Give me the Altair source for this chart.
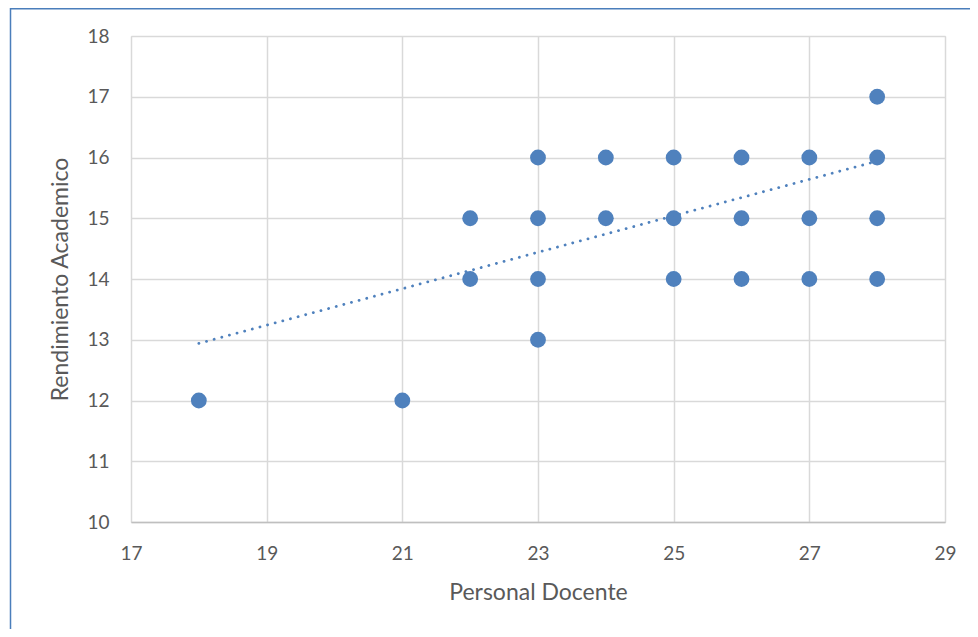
import altair as alt
import pandas as pd

# Data
docente = [18, 21, 22, 22, 23, 23, 23, 23, 24, 24, 25, 25, 25, 26, 26, 26, 27, 27, 27, 28, 28, 28, 28]
rendimiento = [12, 12, 15, 14, 16, 15, 14, 13, 16, 15, 16, 15, 14, 16, 15, 14, 16, 15, 14, 17, 16, 15, 14]

trend_x = [18, 28]
trend_y = [12.94, 15.94]

x_ticks = [17, 19, 21, 23, 25, 27, 29]
y_ticks = [10, 11, 12, 13, 14, 15, 16, 17, 18]

pts = pd.DataFrame({"Personal Docente": docente, "Rendimiento Academico": rendimiento})
trend = pd.DataFrame({"Personal Docente": trend_x, "Rendimiento Academico": trend_y})

FONT = "Lato"
TXT = "#595959"
BLUE = "#4f81bd"

W, H = 814, 486

xs = alt.X("Personal Docente:Q",
           scale=alt.Scale(domain=[17, 29], nice=False, zero=False),
           axis=alt.Axis(values=x_ticks, format="d", title="Personal Docente", grid=True,
                         gridColor="#d9d9d9", gridWidth=1.5,
                         domain=True, domainColor="#bfbfbf", domainWidth=1.5,
                         ticks=False, labelPadding=22, labelFontSize=19,
                         labelFlush=False, labelOverlap=False,
                         labelColor=TXT, labelFont=FONT,
                         titleFont=FONT, titleFontSize=23, titleColor=TXT,
                         titleFontWeight="normal", titlePadding=18))
ys = alt.Y("Rendimiento Academico:Q",
           scale=alt.Scale(domain=[10, 18], nice=False, zero=False),
           axis=alt.Axis(values=y_ticks, format="d", title="Rendimiento Academico", grid=True,
                         gridColor="#d9d9d9", gridWidth=1.5,
                         domain=False, ticks=False, labelPadding=22,
                         labelFlush=False, labelOverlap=False,
                         labelFontSize=19, labelColor=TXT, labelFont=FONT,
                         titleFont=FONT, titleFontSize=23, titleColor=TXT,
                         titleFontWeight="normal", titlePadding=14))

points = alt.Chart(pts).mark_circle(size=250, opacity=1, color=BLUE).encode(x=xs, y=ys)

line = alt.Chart(trend).mark_line(color=BLUE, strokeWidth=2.8, strokeDash=[0.1, 7.8],
                                  strokeCap="round").encode(
    x="Personal Docente:Q", y="Rendimiento Academico:Q")

border = alt.Chart(pd.DataFrame({"a": [0]})).mark_rect(
    fill=None, stroke="#4a7ebb", strokeWidth=1.5, clip=False).encode(
    x=alt.value(-120.5), x2=alt.value(W + 80), y=alt.value(-27.2), y2=alt.value(H + 160))

chart = alt.layer(points, line, border).properties(
    width=W, height=H,
    padding={"left": 123, "top": 28, "right": 25, "bottom": 107},
    autosize=alt.AutoSizeParams(type="none"),
).configure_view(stroke=None).configure(background="white")

chart.save("out.html", embed_options={"renderer": "svg", "actions": False})
